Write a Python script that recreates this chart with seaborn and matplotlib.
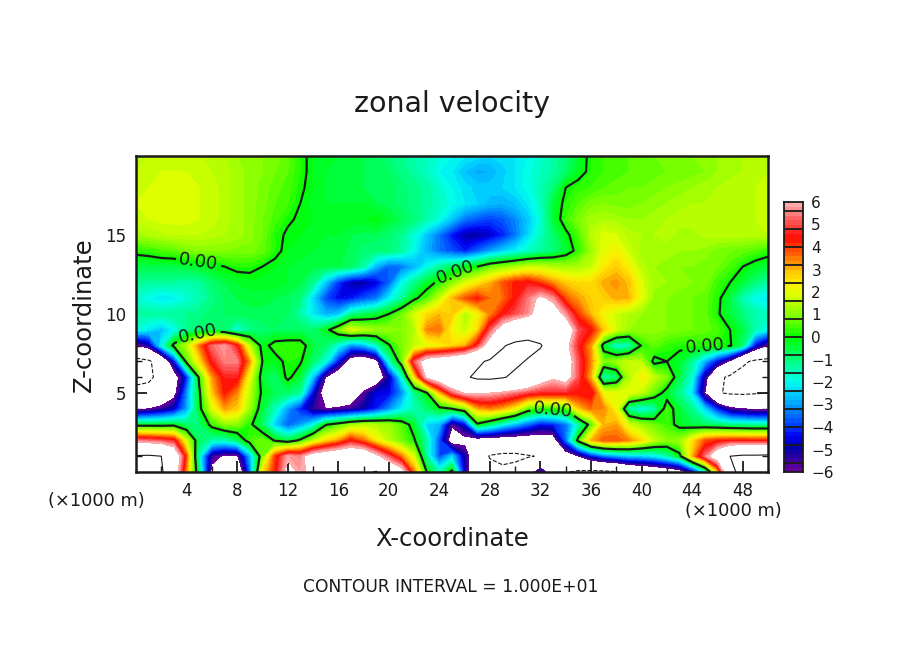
import numpy as np
import pandas as pd
import matplotlib
matplotlib.use('Agg')
import matplotlib.pyplot as plt
from matplotlib.colors import ListedColormap, BoundaryNorm
import seaborn as sns

# zonal velocity, one row per km of height, x = 0..50 km
x_km = list(range(0, 51))
z_km = list(range(0, 21))

u_z00 = [11,11,10.4,7.5,3.2,-1.0,-6.5,-8.0,-8.0,-3.5,2.5,4.2,6.5, 5.8,6.3,7.5,8.0,8.5,9.5,10.2,8.0,7.0,3.5,0.0,-1.5,0.3, -5.0,-8.0,-9.0,-9.5,-9.0,-7.5,-4.8,-7.5,-9.8,-10.4, -10.6,-10.5,-10.2,-9.0,-8.5,-8.0,-7.5,-7.0,-5.0,-2.0,2.5,9.5,10.6,11,11]
u_z01 = [10.2,10.3,10.0,8.0,3.8,-1.8,-5.5,-6.2,-6.2,-2.8,0.8,4.0,5.8, 5.5,7.0,7.5,8.0,8.0,8.0,6.5,5.0,3.5,1.8,-1.4,-3.8,-2.5, -5.0,-8.0,-10.2,-10.6,-10.6,-10.2,-9.8,-7.5,-7.2,-6.0, -4.5,-3.5,-3.0,-2.6,-2.5,-2.2,-1.5,-0.3,3.0,5.3,7.5,10.0,10.4,10.4,10.5]
u_z02 = [5.4,5.2,5.0,4.6,1.8,-0.8,-1.5,-1.6,-0.9,0.5,0.8,-0.1,-0.6, 0.2,1.5,2.5,3.2,4.4,3.6,2.4,1.5,0.8,0.1,-1.4,-3.8,-7.0, -6.5,-7.0,-7.0,-7.2,-7.2,-7.2,-7.0,-7.0,-3.5,0.4, 3.0,3.8,3.8,3.4,2.6,1.6,1.0,1.2,2.5,3.8,4.2,4.3,4.3,4.3,4.3]
u_z03 = [-0.4,-0.4,-0.4,-0.3,-0.9,-1.0,0.3,1.0,1.0,0.2,-0.8,-2.5,-3.6, -3.0,-2.0,-0.1,0.5,1.2,1.5,1.4,1.2,0.6,-0.4,-2.4,-2.8,-5.8, -4.6,-0.2,-1.0,-2.0,-2.8,-3.6,-4.4,-4.2,-3.4,-1.6, 0.5,3.0,3.2,1.8,1.2,0.8,0.4,-0.3,-0.6,-0.8,-1.0,-1.2,-1.3,-1.4,-1.4]
u_z04 = [-6.4,-6.0,-5.5,-4.8,-3.0,-0.3,1.8,3.2,2.8,1.2,-0.6,-1.6,-3.0, -4.2,-5.4,-6.0,-5.8,-5.5,-5.0,-4.2,-3.2,-2.2,-1.5,-0.9,-0.3,0.0, 0.8,3.0,3.4,3.0,2.2,0.6,0.1,0.3,0.3,2.8, 3.6,3.4,2.2,-1.5,-2.0,-1.5,0.5,-0.5,-1.2,-2.5,-4.2,-5.6,-6.0,-6.2,-6.3]
u_z05 = [-9.0,-8.8,-8.2,-6.6,-3.2,-0.2,2.8,4.3,3.4,1.5,-0.2,-0.7,-0.9, -1.3,-4.5,-7.0,-8.0,-7.5,-5.8,-4.5,-4.5,-3.2,-1.2,-0.1,2.8,5.0, 6.1,6.2,6.0,5.7,5.3,4.8,4.6,4.6,4.6,4.4, 4.6,2.2,2.0,2.0,1.6,0.6,-0.4,-1.2,-2.3,-6.0,-9.8,-10.3,-10.4,-10.2,-10.0]
u_z06 = [-11,-10.6,-9.0,-7.0,-4.2,0.2,3.2,4.6,4.6,2.0,-0.5,-0.9,0.2, -0.5,-2.6,-6.0,-7.5,-8.0,-8.0,-7.5,-5.0,-2.0,2.4,6.3,7.5,8.5, 9.6,10.5,10.6,10.2,9.5,8.8,7.0,6.2,6.8,5.0, 3.0,-1.6,-1.0,1.4,2.4,1.6,0.9,-0.6,-1.8,-5.2,-9.3,-10.5,-11,-11,-11]
u_z07 = [-11,-10.4,-8.5,-4.5,0.4,2.5,4.5,5.5,5.5,3.2,0.0,-0.3,0.2, 0.1,-0.9,-1.8,-4.4,-7.0,-7.6,-6.6,-1.8,0.6,5.0,7.0,7.4,7.8, 8.5,9.5,10.4,10.8,10.5,9.8,9.0,8.0,7.0,5.0, 3.4,0.9,1.2,1.7,1.5,-0.3,0.0,-0.4,-1.3,-2.8,-4.5,-6.3,-9.5,-10.5,-10.8]
u_z08 = [-6.2,-5.2,-2.0,0.3,1.5,3.5,5.3,5.8,4.5,1.5,-0.3,0.3,0.4, 0.4,-0.5,-0.9,-1.9,-3.2,-2.8,-1.7,-0.1,0.9,1.6,2.0,2.2,2.6, 3.0,4.6,7.0,9.8,10.6,10.8,10.2,8.5,6.5,4.6, 3.2,-0.5,-1.8,-1.6,0.1,0.7,0.3,0.2,0.2,0.2,0.2,0.1,-1.0,-4.5,-6.2]
u_z09 = [-1.8,-2.2,-2.6,-2.0,-1.2,-0.9,-0.7,-1.0,-1.8,-1.2,-0.9,-0.8,-0.8, -0.8,-0.9,-0.3,0.8,2.0,1.5,1.2,1.2,1.0,1.4,3.4,3.6,2.2, 1.6,2.6,5.0,7.0,8.0,8.5,8.5,8.0,7.5,5.0, 4.4,2.8,1.8,1.2,1.2,1.1,1.0,0.9,0.8,0.7,0.5,0.0,-0.6,-1.5,-2.0]
u_z10 = [-1.3,-1.3,-1.3,-1.2,-1.2,-1.1,-0.9,-0.8,-0.7,-0.7,-0.7,-0.7,-0.8, -1.4,-2.2,-2.8,-2.6,-1.2,-0.8,-0.5,0.0,0.8,1.8,2.6,3.0,2.8, 1.4,2.2,3.4,4.4,5.0,5.6,6.8,7.0,5.6,4.0, 3.0,2.2,1.7,1.4,1.2,1.1,1.0,0.9,0.8,0.7,0.1,-0.5,-1.0,-1.4,-1.6]
u_z11 = [-1.7,-2.0,-2.2,-2.1,-1.8,-1.5,-1.1,-0.8,-0.6,-0.5,-0.5,-0.6,-0.7, -1.0,-2.4,-3.8,-4.4,-4.3,-3.8,-3.4,-2.2,-1.3,-0.2,0.5,1.6,3.0, 3.8,4.3,3.6,3.6,4.4,5.4,6.3,5.6,3.8,3.2, 2.8,2.8,3.1,3.0,2.0,1.1,1.0,0.9,0.8,0.7,0.2,-0.6,-1.5,-2.0,-2.2]
u_z12 = [-1.2,-1.3,-1.3,-1.3,-1.4,-1.3,-0.9,-0.6,-0.4,-0.3,-0.3,-0.3,-0.4, -0.6,-1.2,-2.6,-4.0,-4.9,-5.0,-4.6,-3.6,-2.0,-1.2,-0.4,0.2,1.0, 1.8,2.4,3.0,3.8,4.3,4.5,4.0,3.3,2.8,2.6, 2.6,3.1,3.3,2.9,1.9,1.3,1.2,1.1,1.0,0.9,0.4,0.0,-0.5,-1.0,-1.4]
u_z13 = [-0.6,-0.6,-0.6,-0.6,-0.5,-0.4,-0.2,0.0,0.2,0.2,0.0,-0.2,-0.4, -0.5,-0.6,-0.6,-0.6,-0.8,-1.4,-2.8,-3.6,-3.4,-2.8,-2.0,-1.3,-0.8, -0.3,0.0,0.7,1.0,1.3,1.6,1.6,1.4,1.3,1.3, 1.6,2.4,2.8,2.3,1.5,1.2,1.1,1.0,1.0,0.9,0.8,0.5,0.0,-0.3,-0.5]
u_z14 = [0.2,0.3,0.5,0.6,0.9,1.0,1.0,1.0,0.9,0.9,0.7,0.2,-0.2, -0.3,-0.4,-0.5,-0.4,-0.7,-0.9,-1.0,-1.0,-1.3,-2.0,-2.8,-3.4,-3.8, -4.2,-3.6,-3.0,-2.5,-2.1,-1.7,-1.3,-1.0,-0.5,0.3, 1.2,2.0,2.3,1.7,1.3,1.3,1.3,1.2,1.2,1.1,0.9,0.8,0.7,0.5,0.3]
u_z15 = [1.3,1.4,1.5,1.6,1.6,1.6,1.5,1.4,1.3,1.1,0.8,0.2,-0.1, -0.2,-0.3,-0.4,-0.4,-0.6,-0.7,-0.7,-0.9,-1.2,-1.8,-2.6,-3.4,-4.3, -4.9,-5.0,-4.7,-4.2,-3.4,-2.4,-1.6,-0.9,-0.2,0.5, 1.5,1.9,1.8,1.5,1.4,1.4,1.5,1.3,1.3,1.5,1.5,1.5,1.5,1.5,1.6]
u_z16 = [1.7,1.8,1.9,1.9,1.9,1.8,1.7,1.5,1.3,1.1,0.8,0.5,0.1, -0.1,-0.2,-0.3,-0.3,-0.3,-0.2,-0.1,-0.4,-0.7,-1.0,-1.4,-1.9,-2.6, -3.4,-3.7,-3.9,-3.7,-3.2,-2.6,-1.8,-0.5,0.4,0.9, 1.3,1.4,1.3,1.2,1.2,1.3,1.4,1.5,1.5,1.6,1.6,1.6,1.6,1.6,1.7]
u_z17 = [1.8,1.9,1.9,1.9,1.9,1.8,1.7,1.5,1.3,1.1,0.9,0.6,0.4, 0.0,-0.3,-0.4,-0.4,-0.4,-0.4,-0.6,-0.7,-0.9,-1.1,-1.3,-1.6,-1.9, -2.2,-2.4,-2.7,-2.8,-2.6,-2.2,-1.6,-0.5,0.2,0.6, 0.9,1.0,0.9,0.9,1.0,1.1,1.2,1.3,1.4,1.4,1.5,1.5,1.6,1.6,1.7]
u_z18 = [1.7,1.8,1.9,1.9,1.9,1.8,1.7,1.5,1.3,1.1,0.9,0.7,0.5, 0.1,-0.2,-0.4,-0.5,-0.5,-0.6,-0.6,-0.7,-0.9,-1.1,-1.3,-1.7,-2.0, -2.3,-2.5,-2.5,-2.4,-2.2,-1.9,-1.5,-1.0,0.0,0.3, 0.4,0.6,0.7,0.8,0.8,0.9,1.0,1.1,1.2,1.3,1.4,1.5,1.6,1.6,1.7]
u_z19 = [1.6,1.7,1.8,1.8,1.8,1.7,1.6,1.5,1.3,1.1,1.0,0.8,0.6, 0.2,-0.2,-0.4,-0.5,-0.5,-0.6,-0.7,-0.8,-1.1,-1.3,-1.6,-2.0,-2.2, -2.6,-2.9,-2.8,-2.5,-2.2,-1.9,-1.6,-1.3,-0.9,-0.3, 0.2,0.4,0.5,0.6,0.7,0.7,0.8,0.8,0.9,1.0,1.2,1.3,1.4,1.5,1.6]
u_z20 = [1.5,1.6,1.7,1.7,1.7,1.6,1.5,1.4,1.2,1.1,1.0,0.9,0.7, 0.2,-0.2,-0.3,-0.4,-0.5,-0.6,-0.8,-1.0,-1.2,-1.4,-1.6,-1.8,-2.0, -2.2,-2.3,-2.4,-2.3,-2.2,-2.0,-1.7,-1.4,-1.0,-0.4, 0.2,0.4,0.5,0.6,0.7,0.8,0.9,0.9,1.0,1.1,1.2,1.3,1.4,1.5,1.6]

# colour bar anchors, every 0.5 from -6 to 6
color_anchors = ['#69009b', '#3200a0', '#0000aa', '#0000f0', '#003cff', '#006eff', '#00a5ff',
                 '#00d2ff', '#00ffeb', '#00ffb4', '#00ff78', '#00ff3c', '#00ff00', '#46ff00',
                 '#82ff00', '#b4ff00', '#e1ff00', '#ffeb00', '#ffc300', '#ff8200', '#ff4600',
                 '#ff0a00', '#ff3c3c', '#ff6e6e', '#ffaaaa']
cbar_ticks = [6, 5, 4, 3, 2, 1, 0, -1, -2, -3, -4, -5, -6]
x_tick_labels = [4, 8, 12, 16, 20, 24, 28, 32, 36, 40, 44, 48]
z_tick_labels = [5, 10, 15]
label_spots = [(5.0, 13.7), (25.3, 12.5), (5.0, 8.5), (33.0, 3.9), (45.0, 7.9)]

field = np.array([u_z00, u_z01, u_z02, u_z03, u_z04, u_z05, u_z06, u_z07, u_z08, u_z09, u_z10,
                  u_z11, u_z12, u_z13, u_z14, u_z15, u_z16, u_z17, u_z18, u_z19, u_z20])

sns.set_theme(style='white')
plt.rcParams['font.family'] = ['DejaVu Sans']

W, H = 904, 654
fig = plt.figure(figsize=(W / 100, H / 100), dpi=100)
fig.patch.set_facecolor('white')

ax = fig.add_axes([136 / W, 1 - 472 / H, 632 / W, 316 / H])
levels = np.linspace(-6, 6, 61)
palette = sns.blend_palette(color_anchors, n_colors=60)
cmap = ListedColormap(palette)
norm = BoundaryNorm(levels, cmap.N)

ax.contourf(x_km, z_km, field, levels=levels, cmap=cmap, norm=norm, antialiased=False)
ax.contour(x_km, z_km, field, levels=[-10], colors='k', linewidths=0.8, linestyles='--')
ax.contour(x_km, z_km, field, levels=[10], colors='k', linewidths=0.8, linestyles='-')
zero = ax.contour(x_km, z_km, field, levels=[0], colors='k', linewidths=1.6, linestyles='-')
ax.clabel(zero, fmt='%.2f', fontsize=13, manual=label_spots, inline_spacing=3)

ax.set_xlim(0, 50)
ax.set_ylim(0, 20)
ax.set_xticks(x_tick_labels)
ax.set_xticks(range(2, 50, 4), minor=True)
ax.set_yticks(z_tick_labels)
ax.set_yticks([z for z in range(1, 20) if z % 5], minor=True)
ax.tick_params(which='major', direction='in', top=True, right=True, bottom=True, left=True,
               length=8, width=1.3, labelsize=12, color='k', labelcolor='k', pad=7)
ax.tick_params(which='minor', direction='in', top=True, right=True, bottom=True, left=True,
               length=4, width=1, color='k')
for side in ax.spines.values():
    side.set_linewidth(1.8)
    side.set_color('k')

# colour bar as a one-column heatmap, top value first
cax = fig.add_axes([784 / W, 1 - 472 / H, 19 / W, 270 / H])
mids = (levels[:-1] + levels[1:]) / 2
bar = pd.DataFrame({'u': mids[::-1]})
sns.heatmap(bar, ax=cax, cmap=cmap, norm=norm, cbar=False, xticklabels=False, yticklabels=False,
            linewidths=0, rasterized=True)
for i in range(2, 60, 4):
    cax.axhline(i, color='k', lw=1.3)
for side in cax.spines.values():
    side.set_visible(True)
    side.set_linewidth(1.3)
    side.set_color('k')
cax.yaxis.tick_right()
cax.set_yticks([(6 - v) * 5 for v in cbar_ticks])
cax.set_yticklabels([str(v).replace('-', '\u2212') for v in cbar_ticks], fontsize=11, color='k')
cax.tick_params(axis='y', length=0, pad=6, rotation=0)


def px_text(x, y, s, **kw):
    fig.text(x / W, 1 - y / H, s, ha='center', va='center', color='k', **kw)


px_text(452, 104, 'zonal velocity', fontsize=20.5)
px_text(452, 539, 'X-coordinate', fontsize=17.5)
px_text(84, 315, 'Z-coordinate', fontsize=17.5, rotation=90)
px_text(96, 501, '(\u00d71000 m)', fontsize=12.8)
px_text(733, 511, '(\u00d71000 m)', fontsize=12.8)
px_text(451, 587, 'CONTOUR INTERVAL = 1.000E+01', fontsize=12.3)

fig.savefig('out.png', dpi=100)
